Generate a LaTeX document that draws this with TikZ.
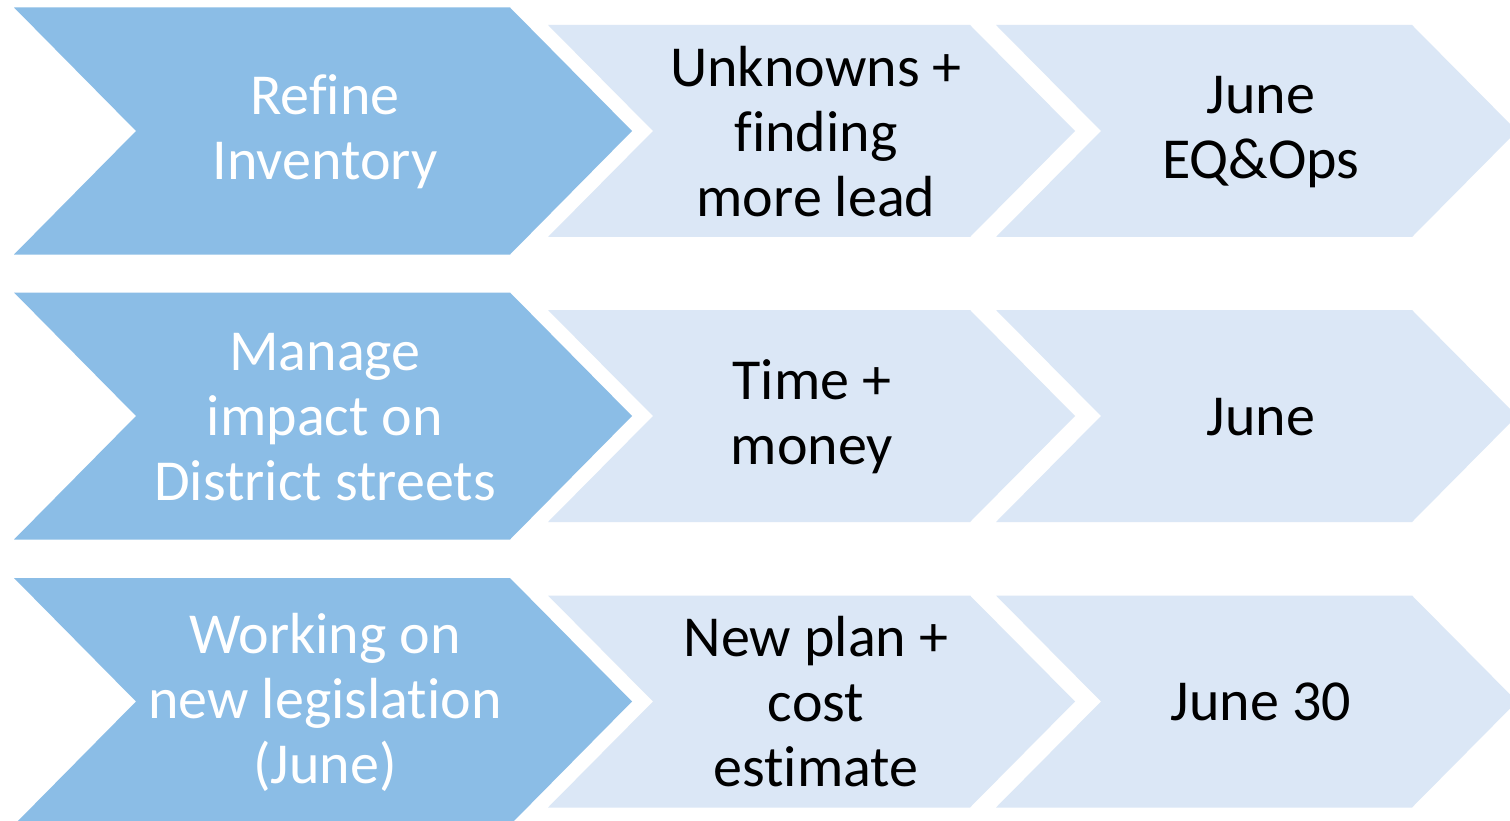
\documentclass[tikz,border=0pt]{standalone}
\usepackage{fontspec}
\setmainfont{Carlito}[Ligatures=NoCommon]
\definecolor{darkchev}{RGB}{139,189,230}
\definecolor{lightchev}{RGB}{219,231,246}
\begin{document}
\begin{tikzpicture}[x=1pt,y=-1pt,
  txt/.style={align=center,font=\fontsize{58}{65}\selectfont,inner sep=0pt},
  darktxt/.style={txt,text=white},
  lighttxt/.style={txt,text=black}]
\useasboundingbox (0,0) rectangle (1510,821);
\clip (0,0) rectangle (1510,821);
\fill[white] (0,0) rectangle (1510,821);
\foreach \c in {131,416,701.5} {
  \fill[lightchev] (996,\c-106) -- (1412,\c-106) -- (1517,\c) -- (1412,\c+106) -- (996,\c+106) -- (1101,\c) -- cycle;
  \fill[lightchev] (548,\c-106) -- (970,\c-106) -- (1075,\c) -- (970,\c+106) -- (548,\c+106) -- (653,\c) -- cycle;
  \fill[darkchev] (14,\c-123.5) -- (510,\c-123.5) -- (632,\c) -- (510,\c+123.5) -- (14,\c+123.5) -- (136,\c) -- cycle;
}
% row 1
\node[darktxt] (d1) at (325,132) {Refine\\Inventory};
\node[lighttxt] (l1) at (816,132) {Unknowns +\\finding\\more lead};
\node[lighttxt] (r1) at (1261,132) {June\\EQ\&Ops};
% row 2
\node[darktxt] (d2) at (325,417) {Manage\\impact on\\District streets};
\node[lighttxt] (l2) at (812,417) {Time +\\money};
\node[lighttxt] (r2) at (1261,417) {June};
% row 3
\node[darktxt] (d3) at (325,702) {Working on\\new legislation\\(June)};
\node[lighttxt] (l3) at (816,702) {New plan +\\cost\\estimate};
\node[lighttxt] (r3) at (1261,702) {June 30};
\end{tikzpicture}
\end{document}
